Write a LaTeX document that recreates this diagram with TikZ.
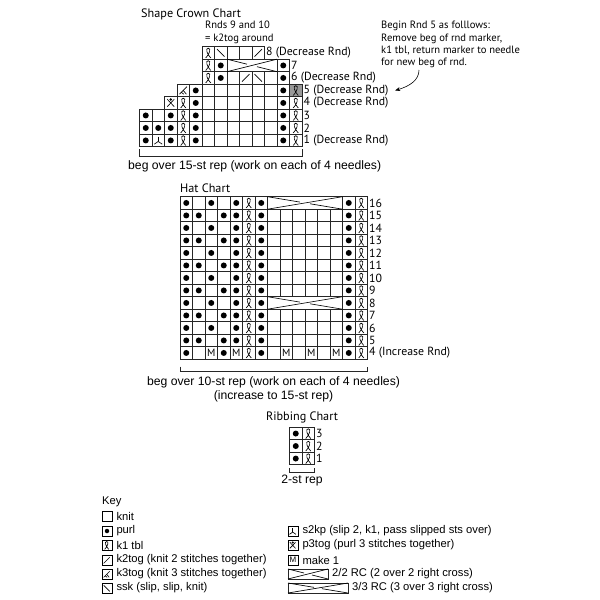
\documentclass[tikz,border=0pt]{standalone}
\usepackage{fontspec}
\setmainfont{PT Sans}
\newfontfamily\keyfont{Liberation Sans}
\usetikzlibrary{arrows.meta,positioning}

\tikzset{
  cellline/.style={
    line width = 0.8pt,
    draw = black!85
  },
  sym/.style={
    line width = 0.65pt
  },
  purl/.style={
    shape = circle,
    fill,
    inner sep = 0pt,
    minimum size = 6pt
  },
  mone/.style={
    inner sep = 0pt,
    font = \fontsize{10.5}{10}\selectfont
  },
  rowlbl/.style={
    anchor = west,
    inner sep = 1.5pt,
    font = \fontsize{11.8}{12}\selectfont
  },
  chartttl/.style={
    anchor = base west,
    inner sep = 0pt,
    font = \fontsize{12.2}{13}\selectfont
  },
  note/.style={
    align = left,
    inner sep = 0pt,
    font = \fontsize{10.6}{12.4}\selectfont
  },
  reptxt/.style={
    inner sep = 0pt,
    font = \keyfont\fontsize{12.2}{14}\selectfont
  },
  keybox/.style={
    draw,
    line width = 0.6pt,
    minimum size = 10pt,
    inner sep = 0pt
  },
  keytxt/.style={
    anchor = west,
    inner sep = 0pt,
    font = \keyfont\fontsize{11.2}{12}\selectfont
  },
}
% chart symbols, drawn in a unit cell
\tikzset{
  pics/tbl/.style={code={
    \draw[sym] (0.3,0.1) .. controls (0.62,0.42) and (0.74,0.88) .. (0.5,0.88)
      .. controls (0.26,0.88) and (0.38,0.42) .. (0.7,0.1);
  }},
  pics/ktog/.style={code={\draw[sym] (0.2,0.2) -- (0.8,0.8);}},
  pics/ssk/.style={code={\draw[sym] (0.2,0.8) -- (0.8,0.2);}},
  pics/kthree/.style={code={
    \draw[sym] (0.2,0.2) -- (0.8,0.8);
    \draw[sym] (0.5,0.5) -- (0.75,0.2);
    \draw[sym] (0.35,0.35) -- (0.55,0.2);
  }},
  pics/stwokp/.style={code={
    \draw[sym] (0.5,0.8) -- (0.5,0.42);
    \draw[sym] (0.18,0.2) -- (0.5,0.42) -- (0.82,0.2);
  }},
  pics/pthree/.style={code={
    \draw[sym] (0.22,0.2) -- (0.78,0.8) (0.22,0.8) -- (0.78,0.2);
    \fill (0.5,0.78) circle (0.11);
  }},
  pics/cable/.style={code={
    \filldraw[cellline, fill=white] (0,0) rectangle (#1,1);
    \draw[sym] (0,0) -- (#1,1);
    \draw[sym] (0,1) -- ({#1/2-0.4},{0.5+0.4/#1});
    \draw[sym] ({#1/2+0.4},{0.5-0.4/#1}) -- (#1,0);
  }},
}

\begin{document}
\begin{tikzpicture}[x=1pt, y=-1pt]
  \fill[white] (0,0) rectangle (600,600);
  \useasboundingbox (0,0) rectangle (600,600);

  % shape crown chart
  \node[chartttl] (crownttl) at (141,17.5) {Shape Crown Chart};
  \node[note, anchor=north west] (rnds) at (205,21) {Rnds 9 and 10\\= k2tog around};
  \node[note, anchor=north west] (begnote) at (381,21)
    {Begin Rnd 5 as folllows:\\Remove beg of rnd marker,\\k1 tbl, return marker to needle\\for new beg of rnd.};
  \begin{scope}[shift={(139.5pt,-146.7pt)}, x=12.5pt, y=12.5pt]
    \fill[black!40] (12,4) rectangle ++(1,1);
    \foreach \r/\a/\b in {0/0/12, 1/0/12, 2/0/12, 3/2/12, 4/3/12, 5/5/11, 6/5/6, 6/11/11, 7/5/9}
      \foreach \c in {\a,...,\b}
        \draw[cellline] (\c,\r) rectangle ++(1,1);
    \pic at (7,6) {cable=4};
    \foreach \c/\r in {0/0, 2/0, 4/0, 11/0, 0/1, 1/1, 2/1, 4/1, 11/1, 0/2, 2/2, 4/2, 11/2,
                       4/3, 11/3, 4/4, 11/4, 6/5, 11/5, 6/6, 11/6}
      \node[purl] (cp-\c-\r) at (\c+.5,\r+.5) {};
    \foreach \c/\r in {3/0, 12/0, 3/1, 12/1, 3/2, 12/2, 3/3, 12/3, 12/4, 5/5, 5/6, 5/7}
      \pic at (\c,\r) {tbl};
    \pic at (1,0) {stwokp};
    \pic at (2,3) {pthree};
    \pic at (3,4) {kthree};
    \pic at (8,5) {ktog};
    \pic at (9,5) {ssk};
    \pic at (6,7) {ssk};
    \pic at (9,7) {ktog};
    \draw[cellline] (0,-0.22) -- (0,-0.8) -- (13,-0.8) -- (13,-0.22);
    % round numbers
    \node[rowlbl] (r1) at (13,0.5) {1 (Decrease Rnd)};
    \node[rowlbl] (r2) at (13,1.5) {2};
    \node[rowlbl] (r3) at (13,2.5) {3};
    \node[rowlbl] (r4) at (13,3.5) {4 (Decrease Rnd)};
    \node[rowlbl] (r5) at (13,4.5) {5 (Decrease Rnd)};
    \node[rowlbl] (r6) at (12,5.5) {6 (Decrease Rnd)};
    \node[rowlbl] (r7) at (12,6.5) {7};
    \node[rowlbl] (r8) at (10,7.5) {8 (Decrease Rnd)};
  \end{scope}
  \coordinate (a0) at (419,70);
  \draw[line width=0.6pt, -{Stealth[length=5pt,width=4pt]}] (a0) .. controls (419,80) and (410,86) .. ([xshift=5pt]r5.east);
  \node[reptxt, anchor=west] (crownrep) at (128,166) {beg over 15-st rep (work on each of 4 needles)};

  % hat chart
  \node[chartttl] (hatttl) at (180,192) {Hat Chart};
  \begin{scope}[shift={(180pt,-359.2pt)}, x=12.5pt, y=12.5pt]
    \foreach \r in {0,...,12}
      \foreach \c in {0,...,14}
        \draw[cellline] (\c,\r) rectangle ++(1,1);
    \pic at (7,4) {cable=6};
    \pic at (7,12) {cable=6};
    \foreach \r in {1,3,...,11}
      \foreach \c in {0,1,3,4,6,13}
        \node[purl] (hp-\c-\r) at (\c+.5,\r+.5) {};
    \foreach \r in {2,4,...,12}
      \foreach \c in {0,2,4,6,13}
        \node[purl] (hp-\c-\r) at (\c+.5,\r+.5) {};
    \foreach \c in {0,3,6,13}
      \node[purl] (hp-\c-0) at (\c+.5,.5) {};
    \foreach \c in {2,4,8,10,12}
      \node[mone] (hm-\c) at (\c+.5,.5) {M};
    \foreach \r in {0,...,12} {
      \pic at (5,\r) {tbl};
      \pic at (14,\r) {tbl};
    }
    \draw[cellline] (0,-0.6) -- (0,-1) -- (15,-1) -- (15,-0.6);
    \node[rowlbl] (h4) at (15,0.5) {4 (Increase Rnd)};
    \foreach \n in {5,...,16}
      \node[rowlbl] (h\n) at (15,\n-3.5) {\n};
  \end{scope}
  \node[reptxt] (hatrep) at (273.5,382) {beg over 10-st rep (work on each of 4 needles)};
  \node[reptxt, below=3pt of hatrep] (hatinc) {(increase to 15-st rep)};

  % ribbing chart
  \node[chartttl, anchor=center] (ribttl) at (302,417) {Ribbing Chart};
  \begin{scope}[shift={(289.5pt,-464.8pt)}, x=12.5pt, y=12.5pt]
    \foreach \r in {0,1,2} {
      \draw[cellline] (0,\r) rectangle ++(1,1);
      \draw[cellline] (1,\r) rectangle ++(1,1);
      \node[purl] (bp-\r) at (.5,\r+.5) {};
      \pic at (1,\r) {tbl};
    }
    \draw[cellline] (0,-0.25) -- (0,-0.6) -- (2,-0.6) -- (2,-0.25);
    \foreach \n in {1,2,3}
      \node[rowlbl] (b\n) at (2,\n-.5) {\n};
  \end{scope}
  \node[reptxt] (ribrep) at (302,481) {2-st rep};

  % key
  \node[keytxt] (keyttl) at (102,502) {Key};
  \node[keybox] (kknit) at (107,516) {};
  \node[keybox] (kpurl) at (107,531) {};
  \node[keybox] (ktbl) at (107,545) {};
  \node[keybox] (kktog) at (107,560) {};
  \node[keybox] (kkthree) at (107,574) {};
  \node[keybox] (kssk) at (107,588) {};
  \node[purl, minimum size=4.5pt] (kpdot) at (kpurl) {};
  \pic[x=10pt, y=10pt] at (ktbl.south west) {tbl};
  \pic[x=10pt, y=10pt] at (kktog.south west) {ktog};
  \pic[x=10pt, y=10pt] at (kkthree.south west) {kthree};
  \pic[x=10pt, y=10pt] at (kssk.south west) {ssk};
  \node[keytxt, right=4pt of kknit] (tknit) {knit};
  \node[keytxt, right=4pt of kpurl] (tpurl) {purl};
  \node[keytxt, right=4pt of ktbl] (ttbl) {k1 tbl};
  \node[keytxt, right=4pt of kktog] (tktog) {k2tog (knit 2 stitches together)};
  \node[keytxt, right=4pt of kkthree] (tkthree) {k3tog (knit 3 stitches together)};
  \node[keytxt, right=4pt of kssk] (tssk) {ssk (slip, slip, knit)};

  \node[keybox] (kstwokp) at (293,531) {};
  \node[keybox] (kpthree) at (293,545) {};
  \node[keybox, font=\keyfont\fontsize{8}{8}\selectfont] (kmone) at (293,560) {M};
  \pic[x=10pt, y=10pt] at (kstwokp.south west) {stwokp};
  \pic[x=10pt, y=10pt] at (kpthree.south west) {pthree};
  \coordinate (kcabtwo) at (288,579);
  \coordinate (kcabthree) at (288,593);
  \pic[x=10pt, y=10pt] at (kcabtwo) {cable=4};
  \pic[x=10pt, y=10pt] at (kcabthree) {cable=6};
  \node[keytxt, right=4pt of kstwokp] (tstwokp) {s2kp (slip 2, k1, pass slipped sts over)};
  \node[keytxt, right=4pt of kpthree] (tpthree) {p3tog (purl 3 stitches together)};
  \node[keytxt, right=4pt of kmone] (tmone) {make 1};
  \node[keytxt] (tcabtwo) at (332,574) {2/2 RC (2 over 2 right cross)};
  \node[keytxt] (tcabthree) at (352,588) {3/3 RC (3 over 3 right cross)};
\end{tikzpicture}
\end{document}
